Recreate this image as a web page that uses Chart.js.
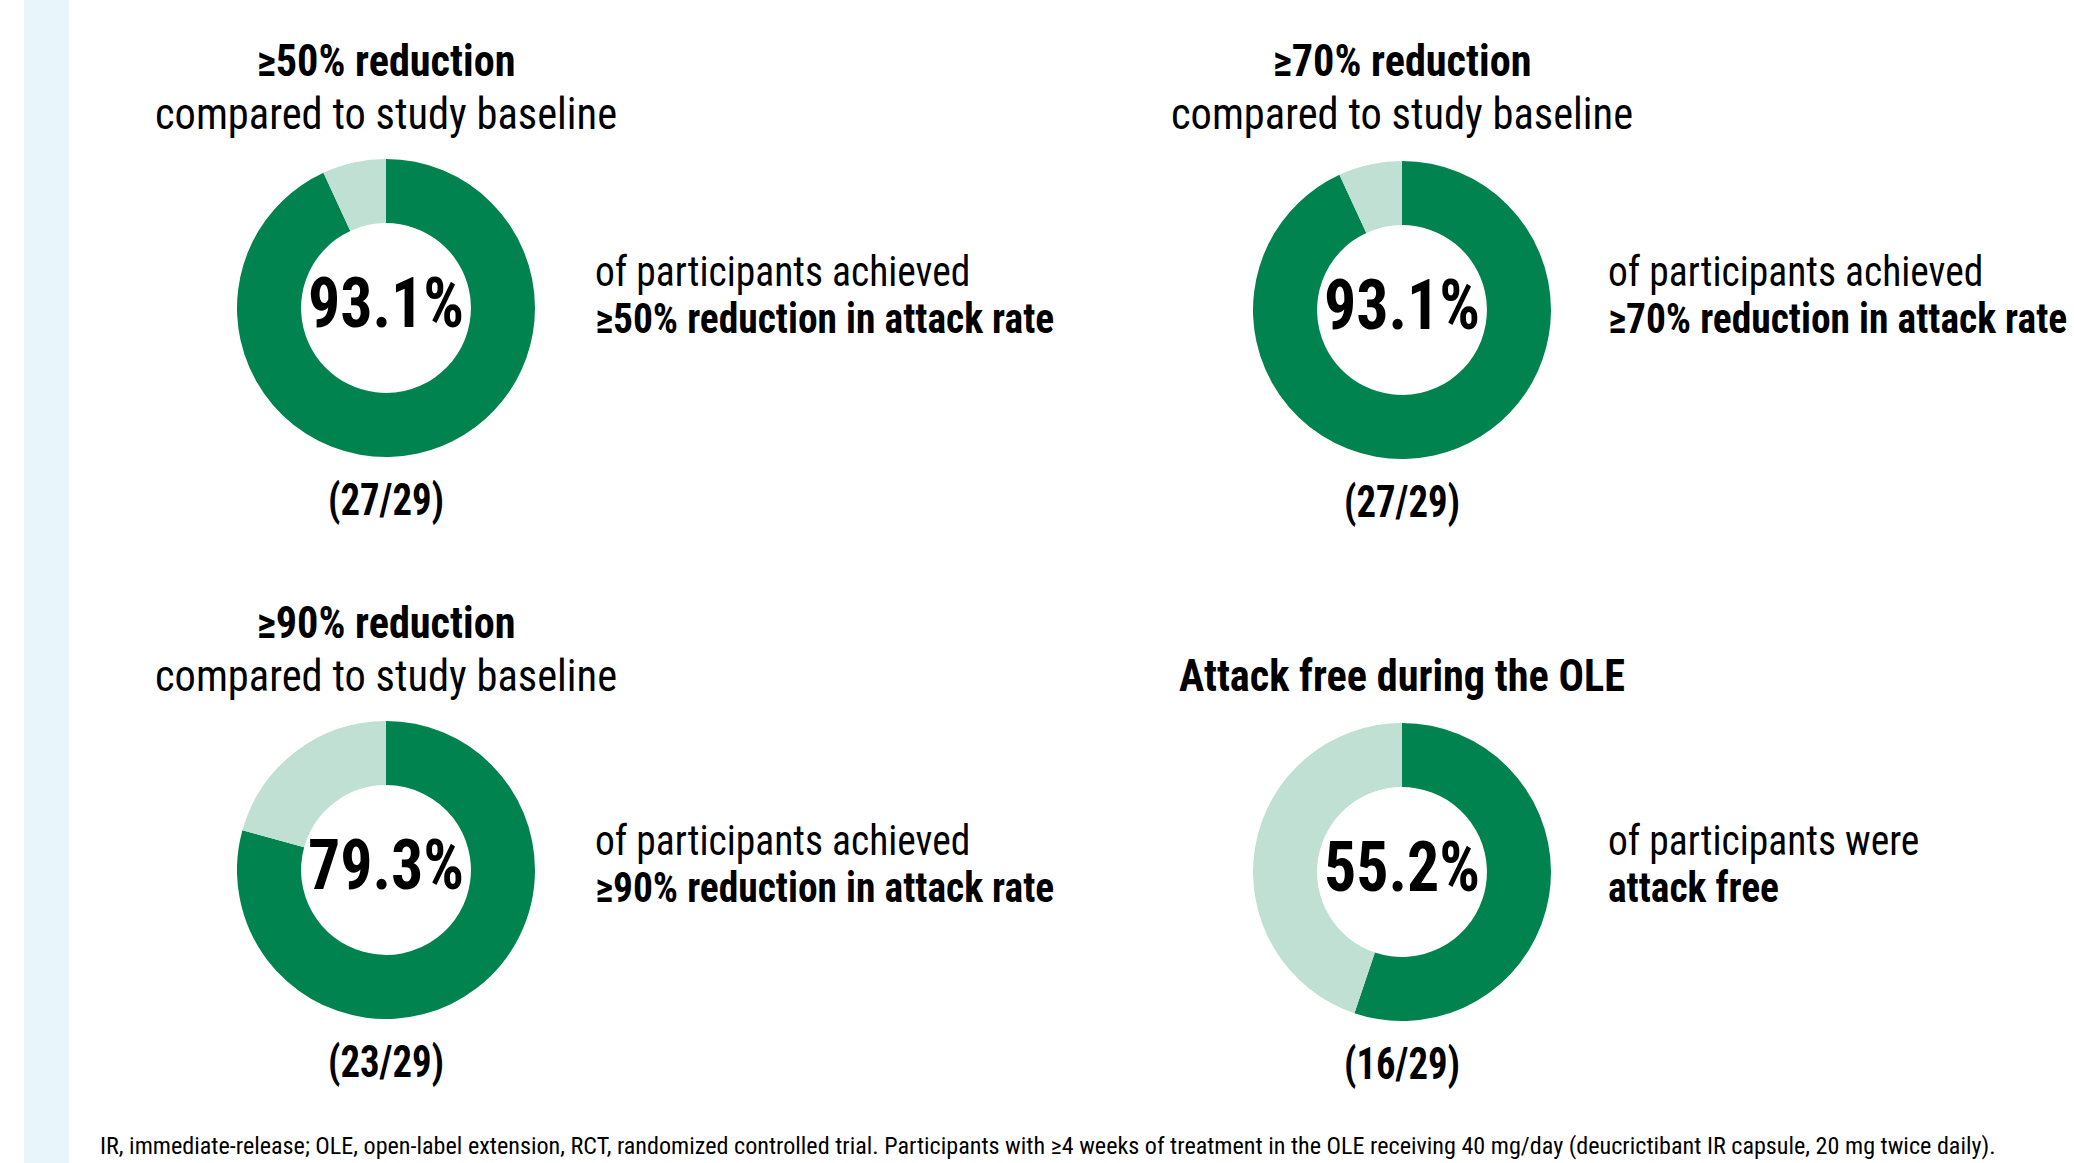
<!DOCTYPE html>
<html>
<head>
<meta charset="utf-8">
<script src="https://cdn.jsdelivr.net/npm/chart.js@4.4.7/dist/chart.umd.min.js"></script>
<style>
  html, body { margin: 0; padding: 0; background: #fff; }
  body { width: 2074px; height: 1163px; position: relative; overflow: hidden;
         font-family: "Roboto Condensed", Roboto, "Liberation Sans", sans-serif; color: #000; }
  .strip { position: absolute; left: 24px; top: 0; width: 45px; height: 1163px; background: #e8f6fc; }
  .t { position: absolute; white-space: nowrap; line-height: 1; }
  .b { font-weight: 700; }
  .donut { position: absolute; width: 298px; height: 298px; }
</style>
</head>
<body>
<div class="strip"></div>
<div id="root"></div>
<script>
// ===== データ =====
const titles = ['≥50% reduction', '≥70% reduction', '≥90% reduction', 'Attack free during the OLE'];
const subtitles = ['compared to study baseline', 'compared to study baseline', 'compared to study baseline', ''];
const achieved = [27, 27, 23, 16];
const notAchieved = [2, 2, 6, 13];
const descLine1 = ['of participants achieved', 'of participants achieved', 'of participants achieved', 'of participants were'];
const descLine2 = ['≥50% reduction in attack rate', '≥70% reduction in attack rate', '≥90% reduction in attack rate', 'attack free'];
const footnote = 'IR, immediate-release; OLE, open-label extension, RCT, randomized controlled trial. Participants with ≥4 weeks of treatment in the OLE receiving 40 mg/day (deucrictibant IR capsule, 20 mg twice daily).';

const DARK = '#00834f';
const LIGHT = '#bfe0d3';

// パネル配置（ドーナツ中心・見出し上端・説明文の位置）
const panels = [
  { cx: 386, cy: 308, top: 40, textX: 595, textY: 251 },
  { cx: 1402, cy: 310, top: 40, textX: 1608, textY: 251 },
  { cx: 386, cy: 870, top: 602, textX: 595, textY: 820 },
  { cx: 1402, cy: 872, top: 602, textX: 1608, textY: 820 }
];

const root = document.getElementById('root');

// 横方向に詰めた文字（center=true なら x が中央）
function addText(text, bold, x, y, size, sx, center) {
  const el = document.createElement('div');
  el.className = 't' + (bold ? ' b' : '');
  el.textContent = text;
  el.style.left = x + 'px';
  el.style.top = y + 'px';
  el.style.fontSize = size + 'px';
  if (center) {
    el.style.transformOrigin = '50% 0';
    el.style.transform = 'translateX(-50%) scaleX(' + sx + ')';
  } else {
    el.style.transformOrigin = '0 0';
    el.style.transform = 'scaleX(' + sx + ')';
  }
  root.appendChild(el);
  return el;
}

function createPanel(i) {
  const p = panels[i];
  const total = achieved[i] + notAchieved[i];
  const pct = (achieved[i] / total * 100).toFixed(1) + '%';

  // 見出し
  if (subtitles[i]) {
    addText(titles[i], true, p.cx, p.top - 1, 44, 0.96, true);
    addText(subtitles[i], false, p.cx, p.top + 52, 44, 0.965, true);
  } else {
    addText(titles[i], true, p.cx, p.top + 52, 44, 0.96, true);
  }

  // ドーナツ
  const box = document.createElement('div');
  box.className = 'donut';
  box.style.left = (p.cx - 149) + 'px';
  box.style.top = (p.cy - 149) + 'px';
  const canvas = document.createElement('canvas');
  box.appendChild(canvas);
  root.appendChild(box);

  new Chart(canvas.getContext('2d'), {
    type: 'doughnut',
    data: {
      labels: ['achieved', 'not achieved'],
      datasets: [{
        data: [achieved[i], notAchieved[i]],
        backgroundColor: [DARK, LIGHT],
        borderWidth: 0
      }]
    },
    options: {
      responsive: true,
      maintainAspectRatio: false,
      animation: false,
      cutout: '57%',
      layout: { padding: 0 },
      plugins: {
        legend: { display: false },
        tooltip: { enabled: false }
      }
    }
  });

  // 中央の割合と人数
  addText(pct, true, p.cx, p.cy - 41, 71, 0.9, true);
  addText('(' + achieved[i] + '/' + total + ')', true, p.cx, p.cy + 170, 44, 0.88, true);

  // 右側の説明文
  addText(descLine1[i], false, p.textX, p.textY, 42, 0.94, false);
  addText(descLine2[i], true, p.textX, p.textY + 47, 42, 0.94, false);
}

panels.forEach((_, i) => createPanel(i));
addText(footnote, false, 100, 1134, 24, 1.005, false);
</script>
</body>
</html>
